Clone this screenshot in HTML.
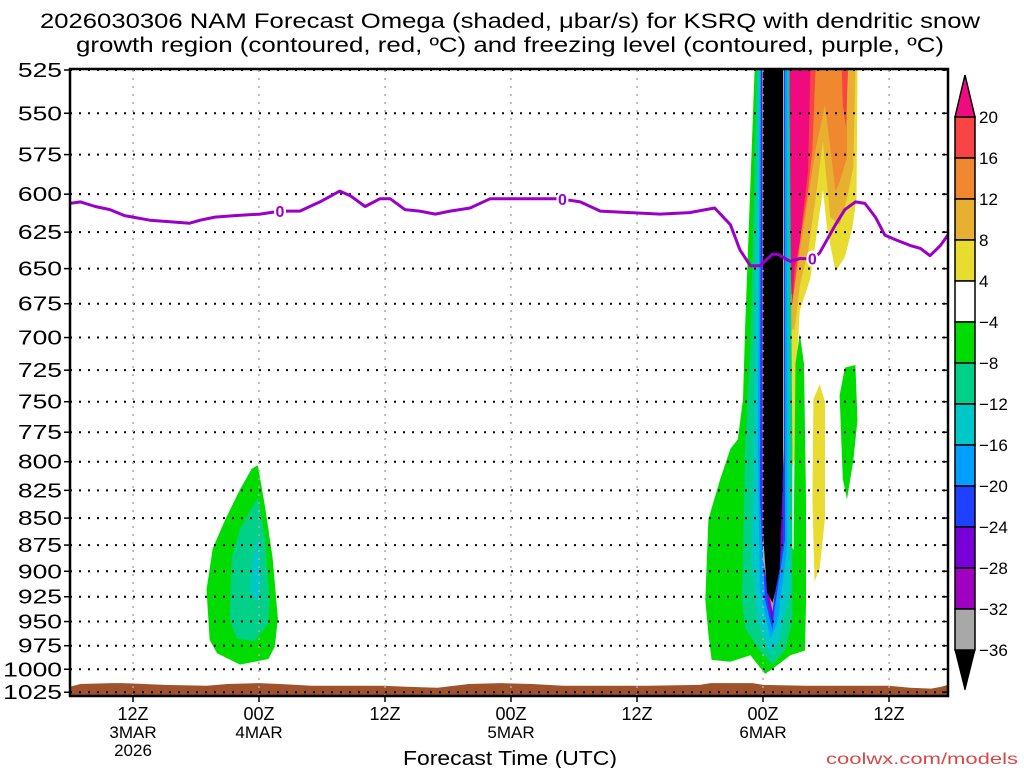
<!DOCTYPE html>
<html><head><meta charset="utf-8">
<style>
html,body{margin:0;padding:0;background:#fff;}
svg{display:block;font-family:"Liberation Sans",sans-serif;}
</style></head>
<body>
<svg id="chart" width="1024" height="768" viewBox="0 0 1024 768" xmlns="http://www.w3.org/2000/svg">
<text x="510" y="28" font-size="21" text-anchor="middle" textLength="940" lengthAdjust="spacingAndGlyphs">2026030306 NAM Forecast Omega (shaded, μbar/s) for KSRQ with dendritic snow</text>
<text x="510" y="52" font-size="21" text-anchor="middle" textLength="868" lengthAdjust="spacingAndGlyphs">growth region (contoured, red, ºC) and freezing level (contoured, purple, ºC)</text>
<g id="plot"></g>
<g id="axes"></g>
<g id="cbar"></g>
<text x="510" y="765" font-size="20" text-anchor="middle" textLength="214" lengthAdjust="spacingAndGlyphs">Forecast Time (UTC)</text>
<text x="1018" y="764" font-size="16" fill="#d84848" text-anchor="end" textLength="192" lengthAdjust="spacingAndGlyphs">coolwx.com/models</text>
</svg>
<script>
// ---- data ----
const pressureTicks = [525,550,575,600,625,650,675,700,725,750,775,800,825,850,875,900,925,950,975,1000,1025];
const timeTickHours = [6,18,30,42,54,66,78];
const timeTickLabels = ["12Z","00Z","12Z","00Z","12Z","00Z","12Z"];
const timeTickDates = ["3MAR\n2026","4MAR","","5MAR","","6MAR",""];
const cbarLevels = ["20","16","12","8","4","−4","−8","−12","−16","−20","−24","−28","−32","−36"];
const cbarColors = ["#f84444","#f08830","#e8b030","#e8dc30","#ffffff","#00dc00","#00d088","#00c8c8","#00a0ff","#2040ff","#7800d8","#a000c0","#a8a8a8"];
// freezing level [hour, hPa]
const frzHours = [0,1,2.4,3.8,5.2,7.6,9.5,11.4,12.4,13.8,15.7,18.1,20,21.9,23.8,25.7,26.7,28.1,29.5,30.5,31.9,33.3,34.8,36.2,38.1,40,41.9,46.7,48.6,50.5,53.3,56.2,59,61.4,62.9,63.8,64.8,65.7,66.9,67.4,68.6,69.5,70.8,71.4,72.9,73.8,74.8,75.7,76.7,77.6,78.6,80,81,81.9,82.9,83.6];
const frzPress = [606,605,608,610,614,617,618,619,617,615,614,613,611,611,605,598,601,608,603,603,610,611,613,611,609,603,603,603,605,611,612,613,612,609,620,637,648,648,640,640,645,643,643,639,620,610,605,606,615,627,630,634,636,641,634,627];
const frzLabels = [[20,611],[46.9,603],[70.7,643]];
// surface pressure (ground)
const sfcHours = [0,1,4,5,9,13,15,18,20,23,30,32,35,38,41,44,47,50,55,60,61,65,66,70,78,80,82,83,83.6];
const sfcPress = [1019,1016,1015,1015,1017,1018,1016,1015,1016,1018,1018,1019,1020,1016,1015,1016,1018,1018,1018,1017,1015,1015,1017,1018,1018,1020,1021,1019,1017];
// shaded omega regions [hour, hPa]
const blobA_m4 = [[17.9,803],[18.6,841],[19.3,887],[19.8,947],[19.5,976],[18.9,989],[16.2,995],[14,983],[13.3,969],[13,918],[13.6,878],[14.8,851],[16.2,824],[17.3,806]];
const blobA_m8 = [[17.9,831],[18.6,869],[19,928],[18.9,952],[17.6,970],[15.9,968],[15.2,948],[15.4,888],[16.2,860]];
const blobA_m12 = [[17.9,866],[18.2,908],[18,931],[17.1,920],[17.4,888]];
const posYellow = [[68.5,525],[75,525],[74.9,603],[74.5,622],[73.8,642],[72.9,652],[72.1,622],[71.7,597],[71.2,622],[70.5,657],[69.5,680],[69.2,720],[69,798],[68.7,807]];
const posGold = [[68.6,525],[74.8,525],[74.6,583],[74,603],[73.3,620],[72.4,615],[71.7,567],[71,603],[70.3,638],[69.5,662],[69,694],[68.7,694]];
const posOrange = [[68.6,525],[74,525],[74,577],[73.3,592],[72.9,598],[71.9,545],[71,572],[70.3,603],[69.5,638],[68.8,675],[68.6,675]];
const posRed = [[68.6,525],[71,525],[70.7,572],[70.3,597],[69.5,632],[68.9,668],[68.6,668]];
const posRedStreak = [[73.5,525],[74.1,525],[73.9,558],[73.6,545]];
const posPink = [[68.5,525],[70.5,525],[70.3,585],[69.5,632],[69,650],[68.8,675],[68.6,650]];
const posYellowOval = [[71.4,736],[71.9,750],[71.9,850],[71.4,897],[70.9,910],[70.7,833],[70.8,748]];
const negGreenR = [[73.8,723],[74.8,721],[75,765],[74.6,799],[74,833],[73.6,815],[73.3,745]];
const neg4 = [[65.2,525],[64.3,693],[64.1,748],[63.6,781],[62.9,789],[61.9,816],[60.8,851],[60.5,928],[60.8,963],[61.1,990],[62.9,992],[64.8,985],[66.2,1005],[67.1,998],[68.6,985],[70,980],[70.1,931],[70.1,833],[69.9,720],[69.5,697],[69.1,720],[68.9,880],[68.5,870],[68.5,525]];
const neg8 = [[65.4,525],[64.8,707],[64.3,789],[64,928],[64.3,957],[65.7,980],[66.9,995],[68.1,980],[68.8,950],[68.8,789],[68.5,525]];
const neg12 = [[65.6,525],[65.2,744],[64.9,887],[65.5,950],[66.7,985],[67.6,968],[68.6,918],[68.6,744],[68.4,525]];
const neg16 = [[65.7,525],[65.5,789],[65.7,918],[66.7,968],[67.4,950],[68.3,878],[68.3,525]];
const neg20 = [[65.8,525],[65.7,833],[66.2,928],[66.9,959],[67.1,938],[68.1,870],[68.1,525]];
const neg24 = [[65.85,525],[65.9,870],[66.5,933],[66.9,952],[67,933],[67.9,870],[68,525]];
const neg28 = [[65.9,525],[66,880],[66.7,943],[67.1,910],[68,800],[68,525]];
const neg32 = [[65.95,525],[66,890],[66.9,940],[67.4,897],[68,790],[68,525]];
const neg36 = [[66,525],[66,864],[66.4,921],[66.9,931],[67.2,918],[67.6,897],[67.9,807],[67.9,525]];

// ---- scales ----
const X0=70, X1=948, Y0=70, YB=696;
function xs(h){return X0+10.5*h;}
function ys(p){return Y0+930*Math.log(p/525);}
const NS="http://www.w3.org/2000/svg";
function mk(tag,attrs,parent){const e=document.createElementNS(NS,tag);for(const k in attrs)e.setAttribute(k,attrs[k]);parent.appendChild(e);return e;}
function pts(arr){return arr.map(d=>xs(d[0]).toFixed(1)+","+ys(d[1]).toFixed(1)).join(" ");}

const plot=document.getElementById("plot");
const axes=document.getElementById("axes");
const cbar=document.getElementById("cbar");
const cp=mk("clipPath",{id:"clip"},plot);
mk("rect",{x:X0,y:Y0-1,width:X1-X0,height:YB-Y0+1},cp);
const g=mk("g",{"clip-path":"url(#clip)"},plot);

const shades=[
 ["blob-a-level-m4",blobA_m4,"#00dc00"],["blob-a-level-m8",blobA_m8,"#00d088"],["blob-a-level-m12",blobA_m12,"#00c8c8"],
 ["pos-yellow",posYellow,"#e8dc30"],["pos-gold",posGold,"#e8b030"],["pos-orange",posOrange,"#f08830"],["pos-red",posRed,"#f84444"],["pos-red-streak",posRedStreak,"#f84444"],["pos-pink",posPink,"#f00a80"],
 ["pos-yellow-oval",posYellowOval,"#e8dc30"],["neg-green-right",negGreenR,"#00dc00"],
 ["neg-level-m4",neg4,"#00dc00"],["neg-level-m8",neg8,"#00d088"],["neg-level-m12",neg12,"#00c8c8"],["neg-level-m16",neg16,"#00a0ff"],["neg-level-m20",neg20,"#2040ff"],["neg-level-m24",neg24,"#7800d8"],["neg-level-m28",neg28,"#a000c0"],["neg-level-m32",neg32,"#a8a8a8"],["neg-level-m36",neg36,"#000000"]
];
shades.forEach(s=>{
 const e=mk("polygon",{points:pts(s[1]),fill:s[2]},g);
 
 
});
// ground
const gp=[[sfcHours[0],1040]].concat(sfcHours.map((h,i)=>[h,sfcPress[i]])).concat([[sfcHours[sfcHours.length-1],1040]]);
const ground=mk("polygon",{points:pts(gp),fill:"#a0522d"},g);


// grid
pressureTicks.forEach(p=>{
 const l=mk("line",{x1:X0,x2:X1,y1:ys(p),y2:ys(p),stroke:"#000","stroke-width":2,"stroke-dasharray":"2 7"},g);
 
 
});
timeTickHours.forEach(h=>{
 const l=mk("line",{x1:xs(h),x2:xs(h),y1:Y0,y2:YB,stroke:"#aaa","stroke-width":1.5,"stroke-dasharray":"2 6"},g);
 
 
});
// freezing line
const fl=mk("polyline",{points:pts(frzHours.map((h,i)=>[h,frzPress[i]])),fill:"none",stroke:"#9a00c8","stroke-width":3,"stroke-linejoin":"round","stroke-linecap":"round"},g);


frzLabels.forEach(d=>{
 const e=mk("ellipse",{cx:xs(d[0]),cy:ys(d[1]),rx:6,ry:8,fill:"#fff"},g);
 
 
 const t=mk("text",{x:xs(d[0]),y:ys(d[1])+6,"font-size":16,"font-weight":"bold",fill:"#9a00c8","text-anchor":"middle"},g);
 t.textContent="0";
 
 
});
// frame
const fr=mk("rect",{x:X0,y:Y0-1,width:X1-X0,height:YB-Y0+1,fill:"none",stroke:"#000","stroke-width":2.5},axes);


// y ticks
pressureTicks.forEach(p=>{
 const y=ys(p);
 mk("line",{x1:X0-6,x2:X0,y1:y,y2:y,stroke:"#000","stroke-width":1.5},axes);
 mk("line",{x1:X1-6,x2:X1,y1:y,y2:y,stroke:"#000","stroke-width":1.5},axes);
 const t=mk("text",{x:X0-8,y:y+7,"font-size":20,"text-anchor":"end",textLength:(String(p).length*14.7).toFixed(1),lengthAdjust:"spacingAndGlyphs"},axes);
 t.textContent=p;
 
 
});
// x ticks
timeTickHours.forEach((h,i)=>{
 const x=xs(h);
 mk("line",{x1:x,x2:x,y1:YB,y2:YB+6,stroke:"#000","stroke-width":1.5},axes);
 const t=mk("text",{x:x,y:720,"font-size":18,"text-anchor":"middle"},axes);
 t.textContent=timeTickLabels[i];
 
 
 timeTickDates[i].split("\n").forEach((s,j)=>{
  if(!s)return;
  const d=mk("text",{x:x,y:738+j*18,"font-size":17,"text-anchor":"middle"},axes);
  d.textContent=s;
  
  
 });
});
// colorbar
const CX=955, CW=20, CT=117, CS=41;
const tt=mk("polygon",{points:`${CX},${CT} ${CX+CW},${CT} ${CX+CW/2},${CT-42}`,fill:"#f00a80",stroke:"#000","stroke-width":1.5},cbar);


cbarColors.forEach((c,i)=>{
 const r=mk("rect",{x:CX,y:CT+i*CS,width:CW,height:CS,fill:c,stroke:"#000","stroke-width":1.5},cbar);
 
 
});
const bt=mk("polygon",{points:`${CX},${CT+13*CS} ${CX+CW},${CT+13*CS} ${CX+CW/2},${CT+13*CS+40}`,fill:"#000",stroke:"#000"},cbar);


cbarLevels.forEach((s,i)=>{
 const t=mk("text",{x:CX+CW+4,y:CT+i*CS+6,"font-size":17},cbar);
 t.textContent=s;
 
 
});
</script>
</body></html>
